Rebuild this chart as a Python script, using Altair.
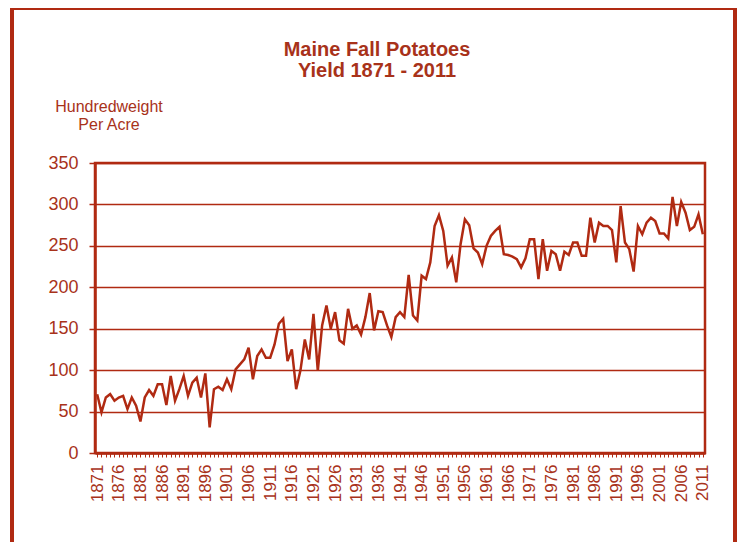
import altair as alt
import pandas as pd

# Years 1871-2011 and yield (hundredweight per acre)
years = list(range(1871, 2012))
yield_cwt = [
    71, 49, 67, 71, 63, 67, 69, 53, 67, 57,      # 1871-1880
    38, 67, 76, 69, 83, 83, 58, 93, 63, 77,      # 1881-1890
    93, 69, 85, 91, 67, 96, 31, 77, 80, 76,      # 1891-1900
    89, 77, 101, 107, 113, 127, 89, 117, 125, 115,  # 1901-1910
    115, 131, 156, 162, 111, 125, 77, 100, 137, 113,  # 1911-1920
    168, 99, 154, 178, 150, 170, 136, 132, 174, 150,  # 1921-1930
    154, 143, 164, 193, 148, 171, 170, 154, 140, 164,  # 1931-1940
    170, 164, 215, 166, 160, 214, 210, 230, 274, 287,  # 1941-1950
    268, 226, 236, 206, 252, 282, 275, 247, 242, 228,  # 1951-1960
    250, 262, 268, 273, 240, 239, 237, 234, 224, 235,  # 1961-1970
    258, 258, 210, 258, 220, 244, 240, 220, 243, 239,  # 1971-1980
    254, 254, 238, 238, 284, 254, 278, 274, 274, 269,  # 1981-1990
    230, 298, 254, 246, 219, 274, 264, 278, 284, 280,  # 1991-2000
    265, 265, 259, 309, 274, 303, 290, 269, 273, 288,  # 2001-2010
    264,                                           # 2011
]
y_ticks = [0, 50, 100, 150, 200, 250, 300, 350]
title_lines = ["Maine Fall Potatoes", "Yield 1871 - 2011"]
ytitle_lines = ["Hundredweight", "Per Acre"]

df = pd.DataFrame({"year": years, "cwt": yield_cwt})

RED = "#B02A12"
TXT = "#A8321A"
FONT = "Liberation Sans"

line = alt.Chart(df).mark_line(color=RED, strokeWidth=2.5).encode(
    x=alt.X(
        "year:O",
        scale=alt.Scale(type="point", padding=0.5),
        axis=alt.Axis(
            title=None,
            labelAngle=270,
            labelFontSize=17,
            labelColor=TXT,
            labelFont=FONT,
            labelPadding=7,
            labelOverlap=False,
            labelExpr="(datum.value - 1871) % 5 == 0 ? datum.label : ''",
            tickSize=4,
            tickColor=RED,
            tickWidth=1,
            domainColor=RED,
            domainWidth=2.5,
            grid=False,
        ),
    ),
    y=alt.Y(
        "cwt:Q",
        scale=alt.Scale(domain=[0, 350], nice=False),
        axis=alt.Axis(
            title=None,
            values=y_ticks,
            labelFontSize=18,
            labelColor=TXT,
            labelFont=FONT,
            labelPadding=11,
            tickSize=6,
            tickColor=RED,
            tickWidth=1.5,
            domainColor=RED,
            domainWidth=2.5,
            grid=True,
            gridColor=RED,
            gridWidth=1.5,
        ),
    ),
)

one = alt.Data(values=[{"k": 1}])

t1 = alt.Chart(one).mark_text(
    align="center", baseline="alphabetic", fontSize=20, fontWeight="bold",
    color=TXT, font=FONT,
).encode(x=alt.value(282), y=alt.value(-107), text=alt.value(title_lines[0]))
t2 = alt.Chart(one).mark_text(
    align="center", baseline="alphabetic", fontSize=20, fontWeight="bold",
    color=TXT, font=FONT,
).encode(x=alt.value(282), y=alt.value(-86), text=alt.value(title_lines[1]))
yt1 = alt.Chart(one).mark_text(
    align="center", baseline="alphabetic", fontSize=16, color=TXT, font=FONT,
).encode(x=alt.value(14), y=alt.value(-51), text=alt.value(ytitle_lines[0]))
yt2 = alt.Chart(one).mark_text(
    align="center", baseline="alphabetic", fontSize=16, color=TXT, font=FONT,
).encode(x=alt.value(14), y=alt.value(-33), text=alt.value(ytitle_lines[1]))

frame = alt.Chart(one).mark_rect(
    fillOpacity=0, stroke=RED, strokeWidth=4
).encode(
    x=alt.value(-83), x2=alt.value(640), y=alt.value(-155), y2=alt.value(470)
)

chart = alt.layer(frame, line, t1, t2, yt1, yt2).properties(
    width=610,
    height=290,
    autosize=alt.AutoSizeParams(type="none"),
    padding={"left": 87, "top": 155, "right": 32, "bottom": 89},
).configure(font=FONT).configure_view(stroke=RED, strokeWidth=2.5)

chart.save("out.html", embed_options={"renderer": "svg", "actions": False})
